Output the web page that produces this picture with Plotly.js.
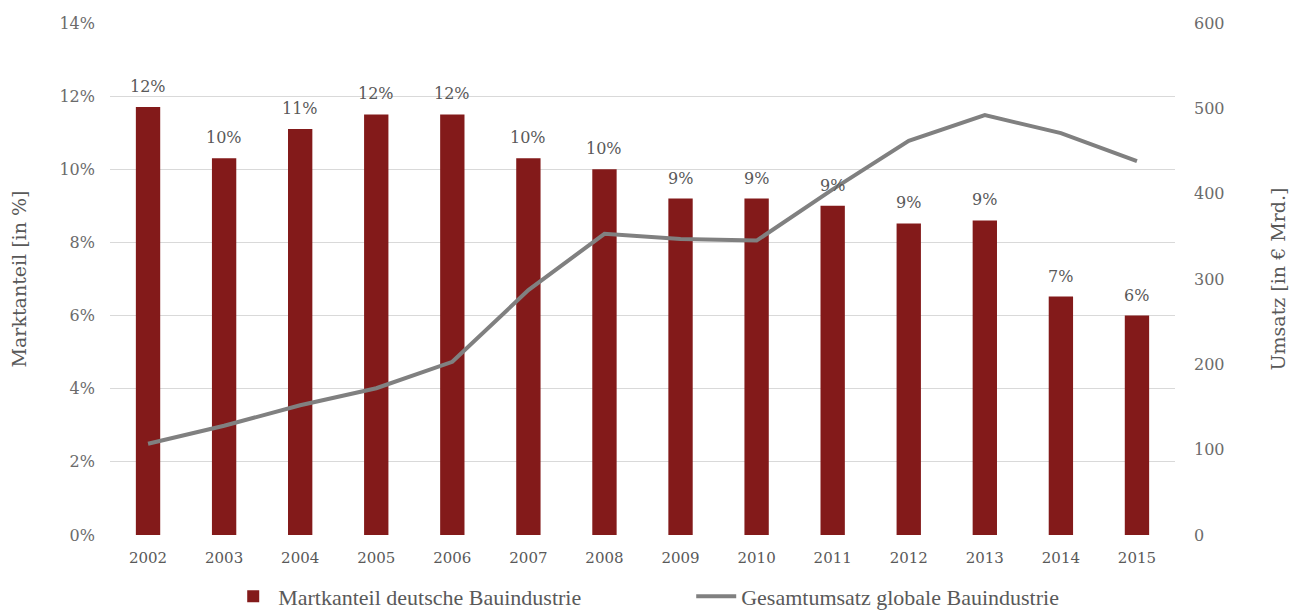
<!DOCTYPE html>
<html>
<head>
<meta charset="utf-8">
<script src="https://cdn.plot.ly/plotly-3.0.1.min.js"></script>
<style>html,body{margin:0;padding:0;background:#fff;}#chart{width:1297px;height:610px;}</style>
</head>
<body>
<div id="chart"></div>
<script>
const years = ['2002','2003','2004','2005','2006','2007','2008','2009','2010','2011','2012','2013','2014','2015'];
const marktanteil = [11.7, 10.3, 11.1, 11.5, 11.5, 10.3, 10.0, 9.2, 9.2, 9.0, 8.52, 8.6, 6.52, 6.0];
const umsatz = [107, 128, 152, 172, 203, 287, 353, 347, 345, 405, 462, 492, 471, 438];
const yTicks = [0, 2, 4, 6, 8, 10, 12, 14];
const y2Ticks = [0, 100, 200, 300, 400, 500, 600];

const serif = 'Georgia, "DejaVu Serif", serif';
const grey = '#595959';

const traces = [
  {
    type: 'bar', x: years, y: marktanteil, name: 'Martkanteil deutsche Bauindustrie',
    marker: {color: '#831a1a'},
    hoverinfo: 'skip'
  },
  {
    type: 'scatter', mode: 'lines', x: years, y: umsatz, yaxis: 'y2',
    name: 'Gesamtumsatz globale Bauindustrie',
    line: {color: '#808080', width: 4},
    hoverinfo: 'skip'
  }
];

// category index positions (category axis positions 0..n-1)
const barLabels = years.map((yr, i) => ({
  x: i, y: marktanteil[i], xref: 'x', yref: 'y',
  text: Math.round(marktanteil[i]) + '%', showarrow: false,
  yanchor: 'bottom', yshift: 9,
  font: {family: serif, size: 16, color: grey}
}));

const layout = {
  width: 1297, height: 610,
  margin: {l: 110, r: 122, t: 23, b: 75, autoexpand: false},
  paper_bgcolor: '#fff', plot_bgcolor: '#fff',
  bargap: 0.68,
  showlegend: true,
  annotations: barLabels,
  legend: {orientation: 'h', x: 0.111, xanchor: 'left', y: -0.12, yanchor: 'middle',
           font: {family: '"Liberation Serif", serif', size: 22, color: grey},
           entrywidth: 408, itemwidth: 40},
  xaxis: {type: 'category', range: [-0.5, years.length - 0.5], autorange: false,
          tickfont: {family: serif, size: 15, color: grey},
          showgrid: false, zeroline: false, showline: false, ticks: '', ticklabelstandoff: 12},
  yaxis: {range: [0, 14], tickvals: yTicks, ticktext: yTicks.map(v => v + '%'),
          tickfont: {family: serif, size: 16, color: '#6b6b6b'}, gridcolor: '#d9d9d9', gridwidth: 1,
          zeroline: false, showline: false, ticks: '', ticklabelstandoff: 14,
          title: {text: 'Marktanteil [in %]', font: {family: serif, size: 19, color: grey}, standoff: 27}},
  yaxis2: {range: [0, 600], tickvals: y2Ticks, overlaying: 'y', side: 'right',
           tickfont: {family: serif, size: 16, color: '#6b6b6b'}, showgrid: false,
           zeroline: false, showline: false, ticks: '', ticklabelstandoff: 18,
           title: {text: 'Umsatz [in € Mrd.]', font: {family: serif, size: 19, color: grey}, standoff: 48}}
};

Plotly.newPlot('chart', traces, layout, {displayModeBar: false, staticPlot: true});
</script>
</body>
</html>
